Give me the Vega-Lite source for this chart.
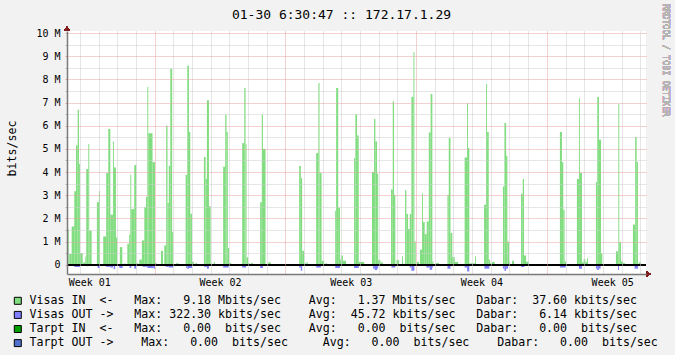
{
"$schema": "https://vega.github.io/schema/vega-lite/v6.json",
"width": 579, "height": 243,
"autosize": {"type": "none"},
"padding": {"left": 67, "top": 31, "right": 29, "bottom": 81},
"background": "#F2F2F2",
"title": {"text": "01-30 6:30:47 :: 172.17.1.29", "font": "DejaVu Sans Mono", "fontSize": 13, "fontWeight": "normal", "color": "#000000", "anchor": "middle", "dx": -15, "offset": -28, "baseline": "alphabetic"},
"config": {"view": {"fill": "#FFFFFF", "stroke": null}, "font": "DejaVu Sans Mono"},
"resolve": {"axis": {"x": "independent", "y": "independent"}},
"data": {"values": [
{"s":"Visas IN","t1":0.31,"t2":0.40,"v":1.54},
{"s":"Visas IN","t1":0.43,"t2":0.56,"v":0.46},
{"s":"Visas IN","t1":0.56,"t2":0.70,"v":1.65},
{"s":"Visas IN","t1":0.70,"t2":0.79,"v":3.17},
{"s":"Visas IN","t1":0.79,"t2":0.88,"v":5.15},
{"s":"Visas IN","t1":0.88,"t2":0.95,"v":6.69},
{"s":"Visas IN","t1":0.95,"t2":1.00,"v":4.35},
{"s":"Visas IN","t1":1.00,"t2":1.15,"v":0.5},
{"s":"Visas IN","t1":1.18,"t2":1.29,"v":0.1},
{"s":"Visas IN","t1":1.29,"t2":1.34,"v":0.36},
{"s":"Visas IN","t1":1.34,"t2":1.45,"v":4.13},
{"s":"Visas IN","t1":1.45,"t2":1.50,"v":5.21},
{"s":"Visas IN","t1":1.50,"t2":1.63,"v":1.47},
{"s":"Visas IN","t1":1.91,"t2":2.02,"v":2.7},
{"s":"Visas IN","t1":2.02,"t2":2.07,"v":3.18},
{"s":"Visas IN","t1":2.25,"t2":2.41,"v":1.22},
{"s":"Visas IN","t1":2.41,"t2":2.52,"v":3.96},
{"s":"Visas IN","t1":2.52,"t2":2.63,"v":5.86},
{"s":"Visas IN","t1":2.63,"t2":2.77,"v":2.16},
{"s":"Visas IN","t1":2.77,"t2":2.82,"v":5.32},
{"s":"Visas IN","t1":2.82,"t2":2.93,"v":4.2},
{"s":"Visas IN","t1":2.93,"t2":3.00,"v":1.18},
{"s":"Visas IN","t1":3.14,"t2":3.27,"v":0.76},
{"s":"Visas IN","t1":3.38,"t2":3.43,"v":0.07},
{"s":"Visas IN","t1":3.54,"t2":3.64,"v":0.9},
{"s":"Visas IN","t1":3.64,"t2":3.70,"v":1.3},
{"s":"Visas IN","t1":3.70,"t2":3.75,"v":3.9},
{"s":"Visas IN","t1":3.75,"t2":3.91,"v":2.4},
{"s":"Visas IN","t1":3.91,"t2":4.02,"v":4.3},
{"s":"Visas IN","t1":4.02,"t2":4.12,"v":0.07},
{"s":"Visas IN","t1":4.18,"t2":4.32,"v":0.22},
{"s":"Visas IN","t1":4.32,"t2":4.45,"v":1.05},
{"s":"Visas IN","t1":4.45,"t2":4.54,"v":2.49},
{"s":"Visas IN","t1":4.54,"t2":4.61,"v":2.92},
{"s":"Visas IN","t1":4.61,"t2":4.66,"v":7.67},
{"s":"Visas IN","t1":4.66,"t2":4.89,"v":5.68},
{"s":"Visas IN","t1":4.89,"t2":5.02,"v":4.43},
{"s":"Visas IN","t1":5.02,"t2":5.11,"v":0.07},
{"s":"Visas IN","t1":5.34,"t2":5.45,"v":0.6},
{"s":"Visas IN","t1":5.52,"t2":5.62,"v":0.83},
{"s":"Visas IN","t1":5.62,"t2":5.69,"v":6.0},
{"s":"Visas IN","t1":5.69,"t2":5.76,"v":2.66},
{"s":"Visas IN","t1":5.76,"t2":5.84,"v":4.27},
{"s":"Visas IN","t1":5.84,"t2":5.94,"v":8.46},
{"s":"Visas IN","t1":5.94,"t2":6.00,"v":1.41},
{"s":"Visas IN","t1":6.16,"t2":6.27,"v":0.07},
{"s":"Visas IN","t1":6.66,"t2":6.75,"v":3.88},
{"s":"Visas IN","t1":6.75,"t2":6.84,"v":8.59},
{"s":"Visas IN","t1":6.84,"t2":6.91,"v":5.73},
{"s":"Visas IN","t1":6.91,"t2":7.00,"v":2.2},
{"s":"Visas IN","t1":7.00,"t2":7.10,"v":0.13},
{"s":"Visas IN","t1":7.19,"t2":7.28,"v":0.07},
{"s":"Visas IN","t1":7.64,"t2":7.73,"v":4.65},
{"s":"Visas IN","t1":7.73,"t2":7.80,"v":3.7},
{"s":"Visas IN","t1":7.80,"t2":7.91,"v":7.1},
{"s":"Visas IN","t1":7.91,"t2":8.00,"v":2.53},
{"s":"Visas IN","t1":8.00,"t2":8.08,"v":0.06},
{"s":"Visas IN","t1":8.17,"t2":8.23,"v":0.12},
{"s":"Visas IN","t1":8.67,"t2":8.78,"v":4.23},
{"s":"Visas IN","t1":8.78,"t2":8.85,"v":6.47},
{"s":"Visas IN","t1":8.85,"t2":8.92,"v":5.73},
{"s":"Visas IN","t1":8.92,"t2":8.99,"v":0.72},
{"s":"Visas IN","t1":8.99,"t2":9.10,"v":0.07},
{"s":"Visas IN","t1":9.69,"t2":9.80,"v":5.25},
{"s":"Visas IN","t1":9.80,"t2":9.87,"v":7.63},
{"s":"Visas IN","t1":9.87,"t2":9.92,"v":5.2},
{"s":"Visas IN","t1":9.92,"t2":10.01,"v":0.32},
{"s":"Visas IN","t1":10.01,"t2":10.08,"v":0.07},
{"s":"Visas IN","t1":10.17,"t2":10.26,"v":0.07},
{"s":"Visas IN","t1":10.65,"t2":10.74,"v":2.7},
{"s":"Visas IN","t1":10.74,"t2":10.80,"v":6.47},
{"s":"Visas IN","t1":10.80,"t2":10.94,"v":5.0},
{"s":"Visas IN","t1":11.08,"t2":11.22,"v":0.1},
{"s":"Visas IN","t1":12.74,"t2":12.83,"v":4.26},
{"s":"Visas IN","t1":12.83,"t2":12.90,"v":3.74},
{"s":"Visas IN","t1":12.90,"t2":13.01,"v":0.6},
{"s":"Visas IN","t1":13.06,"t2":13.15,"v":0.06},
{"s":"Visas IN","t1":13.15,"t2":13.20,"v":0.12},
{"s":"Visas IN","t1":13.65,"t2":13.77,"v":4.82},
{"s":"Visas IN","t1":13.77,"t2":13.83,"v":7.84},
{"s":"Visas IN","t1":13.83,"t2":13.94,"v":3.96},
{"s":"Visas IN","t1":13.94,"t2":14.08,"v":0.17},
{"s":"Visas IN","t1":14.15,"t2":14.22,"v":0.06},
{"s":"Visas IN","t1":14.67,"t2":14.72,"v":2.33},
{"s":"Visas IN","t1":14.72,"t2":14.83,"v":7.63},
{"s":"Visas IN","t1":14.83,"t2":14.93,"v":2.47},
{"s":"Visas IN","t1":14.93,"t2":14.99,"v":0.22},
{"s":"Visas IN","t1":14.99,"t2":15.08,"v":0.4},
{"s":"Visas IN","t1":15.08,"t2":15.25,"v":0.17},
{"s":"Visas IN","t1":15.68,"t2":15.75,"v":4.6},
{"s":"Visas IN","t1":15.75,"t2":15.84,"v":6.5},
{"s":"Visas IN","t1":15.84,"t2":15.93,"v":5.58},
{"s":"Visas IN","t1":15.93,"t2":16.22,"v":0.12},
{"s":"Visas IN","t1":16.64,"t2":16.75,"v":4.0},
{"s":"Visas IN","t1":16.75,"t2":16.82,"v":6.29},
{"s":"Visas IN","t1":16.82,"t2":16.91,"v":5.32},
{"s":"Visas IN","t1":16.91,"t2":16.97,"v":3.93},
{"s":"Visas IN","t1":16.97,"t2":17.09,"v":0.2},
{"s":"Visas IN","t1":17.09,"t2":17.22,"v":0.1},
{"s":"Visas IN","t1":17.66,"t2":17.75,"v":3.25},
{"s":"Visas IN","t1":17.75,"t2":17.82,"v":7.05},
{"s":"Visas IN","t1":17.82,"t2":17.89,"v":3.02},
{"s":"Visas IN","t1":17.95,"t2":18.09,"v":0.2},
{"s":"Visas IN","t1":18.25,"t2":18.30,"v":0.37},
{"s":"Visas IN","t1":18.30,"t2":18.41,"v":0.04},
{"s":"Visas IN","t1":18.41,"t2":18.48,"v":3.22},
{"s":"Visas IN","t1":18.48,"t2":18.57,"v":2.19},
{"s":"Visas IN","t1":18.57,"t2":18.66,"v":1.54},
{"s":"Visas IN","t1":18.66,"t2":18.75,"v":2.19},
{"s":"Visas IN","t1":18.75,"t2":18.86,"v":7.25},
{"s":"Visas IN","t1":18.86,"t2":18.91,"v":9.18},
{"s":"Visas IN","t1":18.91,"t2":18.98,"v":1.0},
{"s":"Visas IN","t1":19.05,"t2":19.16,"v":0.12},
{"s":"Visas IN","t1":19.21,"t2":19.32,"v":0.65},
{"s":"Visas IN","t1":19.32,"t2":19.37,"v":3.09},
{"s":"Visas IN","t1":19.37,"t2":19.46,"v":1.84},
{"s":"Visas IN","t1":19.46,"t2":19.57,"v":1.32},
{"s":"Visas IN","t1":19.57,"t2":19.68,"v":1.87},
{"s":"Visas IN","t1":19.68,"t2":19.78,"v":5.71},
{"s":"Visas IN","t1":19.78,"t2":19.87,"v":7.37},
{"s":"Visas IN","t1":19.87,"t2":19.93,"v":0.14},
{"s":"Visas IN","t1":20.05,"t2":20.23,"v":0.07},
{"s":"Visas IN","t1":20.68,"t2":20.75,"v":3.02},
{"s":"Visas IN","t1":20.75,"t2":20.84,"v":5.47},
{"s":"Visas IN","t1":20.84,"t2":20.94,"v":1.37},
{"s":"Visas IN","t1":20.94,"t2":21.07,"v":0.33},
{"s":"Visas IN","t1":21.07,"t2":21.25,"v":0.12},
{"s":"Visas IN","t1":21.60,"t2":21.73,"v":4.63},
{"s":"Visas IN","t1":21.73,"t2":21.78,"v":6.98},
{"s":"Visas IN","t1":21.78,"t2":21.85,"v":5.04},
{"s":"Visas IN","t1":21.85,"t2":22.16,"v":0.06},
{"s":"Visas IN","t1":22.16,"t2":22.21,"v":0.37},
{"s":"Visas IN","t1":22.64,"t2":22.75,"v":2.59},
{"s":"Visas IN","t1":22.75,"t2":22.80,"v":7.8},
{"s":"Visas IN","t1":22.80,"t2":22.89,"v":5.73},
{"s":"Visas IN","t1":22.89,"t2":22.96,"v":0.22},
{"s":"Visas IN","t1":22.96,"t2":23.07,"v":0.06},
{"s":"Visas IN","t1":23.07,"t2":23.21,"v":0.12},
{"s":"Visas IN","t1":23.65,"t2":23.73,"v":3.38},
{"s":"Visas IN","t1":23.73,"t2":23.82,"v":6.12},
{"s":"Visas IN","t1":23.82,"t2":23.89,"v":4.7},
{"s":"Visas IN","t1":23.89,"t2":23.98,"v":1.0},
{"s":"Visas IN","t1":23.98,"t2":24.03,"v":0.12},
{"s":"Visas IN","t1":24.14,"t2":24.24,"v":0.17},
{"s":"Visas IN","t1":24.62,"t2":24.71,"v":3.06},
{"s":"Visas IN","t1":24.71,"t2":24.78,"v":3.7},
{"s":"Visas IN","t1":24.78,"t2":24.89,"v":0.4},
{"s":"Visas IN","t1":24.89,"t2":25.03,"v":0.13},
{"s":"Visas IN","t1":26.70,"t2":26.81,"v":5.73},
{"s":"Visas IN","t1":26.81,"t2":26.88,"v":4.43},
{"s":"Visas IN","t1":26.88,"t2":26.95,"v":2.37},
{"s":"Visas IN","t1":26.95,"t2":27.03,"v":0.14},
{"s":"Visas IN","t1":27.61,"t2":27.72,"v":3.7},
{"s":"Visas IN","t1":27.72,"t2":27.77,"v":7.19},
{"s":"Visas IN","t1":27.77,"t2":27.88,"v":3.96},
{"s":"Visas IN","t1":27.88,"t2":27.97,"v":0.1},
{"s":"Visas IN","t1":27.97,"t2":28.06,"v":0.24},
{"s":"Visas IN","t1":28.06,"t2":28.15,"v":0.12},
{"s":"Visas IN","t1":28.15,"t2":28.20,"v":0.29},
{"s":"Visas IN","t1":28.63,"t2":28.70,"v":3.57},
{"s":"Visas IN","t1":28.70,"t2":28.79,"v":7.24},
{"s":"Visas IN","t1":28.79,"t2":28.90,"v":5.4},
{"s":"Visas IN","t1":28.90,"t2":28.97,"v":0.5},
{"s":"Visas IN","t1":29.70,"t2":29.83,"v":0.58},
{"s":"Visas IN","t1":29.83,"t2":29.88,"v":6.94},
{"s":"Visas IN","t1":29.88,"t2":29.97,"v":0.98},
{"s":"Visas IN","t1":29.97,"t2":30.08,"v":0.14},
{"s":"Visas IN","t1":30.08,"t2":30.18,"v":0.07},
{"s":"Visas IN","t1":30.61,"t2":30.73,"v":1.73},
{"s":"Visas IN","t1":30.73,"t2":30.81,"v":5.51},
{"s":"Visas IN","t1":30.81,"t2":30.88,"v":4.43},
{"s":"Visas IN","t1":30.88,"t2":30.93,"v":0.04},
{"s":"Visas IN","t1":30.93,"t2":31.04,"v":0.1},
{"s":"Visas IN","t1":31.04,"t2":31.20,"v":0.03},
{"s":"Visas OUT","t1":0.31,"t2":0.35,"v":-0.07},
{"s":"Visas OUT","t1":0.70,"t2":1.00,"v":-0.1},
{"s":"Visas OUT","t1":1.33,"t2":1.50,"v":-0.06},
{"s":"Visas OUT","t1":1.95,"t2":2.07,"v":-0.14},
{"s":"Visas OUT","t1":2.40,"t2":2.63,"v":-0.09},
{"s":"Visas OUT","t1":2.63,"t2":2.77,"v":-0.12},
{"s":"Visas OUT","t1":2.81,"t2":2.89,"v":-0.19},
{"s":"Visas OUT","t1":3.11,"t2":3.29,"v":-0.14},
{"s":"Visas OUT","t1":3.66,"t2":3.75,"v":-0.14},
{"s":"Visas OUT","t1":3.91,"t2":4.02,"v":-0.17},
{"s":"Visas OUT","t1":4.36,"t2":4.59,"v":-0.09},
{"s":"Visas OUT","t1":4.61,"t2":4.95,"v":-0.14},
{"s":"Visas OUT","t1":4.95,"t2":5.02,"v":-0.17},
{"s":"Visas OUT","t1":5.59,"t2":5.76,"v":-0.09},
{"s":"Visas OUT","t1":5.76,"t2":6.00,"v":-0.12},
{"s":"Visas OUT","t1":6.69,"t2":6.75,"v":-0.14},
{"s":"Visas OUT","t1":6.75,"t2":6.84,"v":-0.17},
{"s":"Visas OUT","t1":6.84,"t2":7.00,"v":-0.14},
{"s":"Visas OUT","t1":7.10,"t2":7.16,"v":-0.04},
{"s":"Visas OUT","t1":7.64,"t2":7.80,"v":-0.09},
{"s":"Visas OUT","t1":7.80,"t2":7.91,"v":-0.17},
{"s":"Visas OUT","t1":8.05,"t2":8.17,"v":-0.03},
{"s":"Visas OUT","t1":8.67,"t2":8.96,"v":-0.12},
{"s":"Visas OUT","t1":9.69,"t2":9.90,"v":-0.12},
{"s":"Visas OUT","t1":10.65,"t2":10.80,"v":-0.14},
{"s":"Visas OUT","t1":10.80,"t2":10.87,"v":-0.06},
{"s":"Visas OUT","t1":12.74,"t2":12.83,"v":-0.12},
{"s":"Visas OUT","t1":12.83,"t2":12.90,"v":-0.26},
{"s":"Visas OUT","t1":13.65,"t2":13.90,"v":-0.12},
{"s":"Visas OUT","t1":14.67,"t2":14.93,"v":-0.14},
{"s":"Visas OUT","t1":15.68,"t2":15.93,"v":-0.14},
{"s":"Visas OUT","t1":15.93,"t2":16.00,"v":-0.03},
{"s":"Visas OUT","t1":16.70,"t2":16.79,"v":-0.17},
{"s":"Visas OUT","t1":16.79,"t2":16.91,"v":-0.23},
{"s":"Visas OUT","t1":16.91,"t2":16.97,"v":-0.17},
{"s":"Visas OUT","t1":17.68,"t2":17.89,"v":-0.12},
{"s":"Visas OUT","t1":18.21,"t2":18.30,"v":-0.03},
{"s":"Visas OUT","t1":18.39,"t2":18.66,"v":-0.04},
{"s":"Visas OUT","t1":18.66,"t2":18.75,"v":-0.12},
{"s":"Visas OUT","t1":18.75,"t2":18.91,"v":-0.26},
{"s":"Visas OUT","t1":19.55,"t2":19.73,"v":-0.12},
{"s":"Visas OUT","t1":19.73,"t2":19.86,"v":-0.22},
{"s":"Visas OUT","t1":19.86,"t2":19.91,"v":-0.12},
{"s":"Visas OUT","t1":20.68,"t2":20.84,"v":-0.17},
{"s":"Visas OUT","t1":21.60,"t2":21.73,"v":-0.12},
{"s":"Visas OUT","t1":21.73,"t2":21.85,"v":-0.29},
{"s":"Visas OUT","t1":22.66,"t2":22.92,"v":-0.17},
{"s":"Visas OUT","t1":23.65,"t2":23.73,"v":-0.17},
{"s":"Visas OUT","t1":23.73,"t2":23.82,"v":-0.26},
{"s":"Visas OUT","t1":23.82,"t2":23.92,"v":-0.17},
{"s":"Visas OUT","t1":24.62,"t2":24.80,"v":-0.1},
{"s":"Visas OUT","t1":26.70,"t2":27.01,"v":-0.12},
{"s":"Visas OUT","t1":27.61,"t2":27.72,"v":-0.06},
{"s":"Visas OUT","t1":27.72,"t2":27.88,"v":-0.17},
{"s":"Visas OUT","t1":28.63,"t2":28.70,"v":-0.17},
{"s":"Visas OUT","t1":28.70,"t2":28.79,"v":-0.23},
{"s":"Visas OUT","t1":28.79,"t2":28.88,"v":-0.17},
{"s":"Visas OUT","t1":29.81,"t2":29.86,"v":-0.23},
{"s":"Visas OUT","t1":30.70,"t2":30.88,"v":-0.17}
]},
"layer": [
{"mark": {"type": "rect", "strokeWidth": 0},
 "encoding": {
  "x": {"field": "t1", "type": "quantitative",
        "scale": {"domain": [0.31, 31.31], "nice": false, "zero": false},
        "axis": {"values": [1,2,3,4,5,6,7,8,9,10,11,12,13,14,15,16,17,18,19,20,21,22,23,24,25,26,27,28,29,30,31,1.5,8.5,15.5,22.5,29.5],
                 "title": null, "grid": true,
                 "gridColor": {"condition": {"test": "datum.value % 7 === 5", "value": "#E6A3A3"}, "value": "#CCCCCC"},
                 "gridOpacity": {"condition": {"test": "datum.value % 1 !== 0", "value": 0}, "value": 1},
                 "gridDash": [1, 1], "ticks": false,
                 "labelExpr": "datum.value % 1 === 0.5 ? 'Week 0' + round((datum.value + 5.5) / 7) : ''",
                 "labelFont": "DejaVu Sans Mono", "labelFontSize": 10, "labelColor": "#000000",
                 "labelPadding": 3.5, "labelOverlap": false, "labelFlush": false, "labelBound": false,
                 "domainColor": "#7A7A7A", "domainWidth": 1.5, "zindex": 1}},
  "x2": {"field": "t2"},
  "y": {"field": "v", "type": "quantitative",
        "scale": {"domain": [-0.4, 10.09], "nice": false, "zero": false},
        "axis": {"values": [0,0.5,1,1.5,2,2.5,3,3.5,4,4.5,5,5.5,6,6.5,7,7.5,8,8.5,9,9.5,10],
                 "title": "bits/sec", "titleFont": "DejaVu Sans Mono", "titleFontSize": 11.6, "titleFontWeight": "normal",
                 "titleColor": "#000000", "titleX": -55, "titleY": 117, "titleAngle": -90, "titleAlign": "center", "titleBaseline": "middle",
                 "grid": true,
                 "gridColor": {"condition": {"test": "datum.value % 1 === 0", "value": "#E6A3A3"}, "value": "#CCCCCC"},
                 "gridOpacity": {"condition": {"test": "datum.value === 0", "value": 0}, "value": 1},
                 "gridDash": [1, 1],
                 "tickSize": 2,
                 "tickColor": {"condition": {"test": "datum.value % 1 === 0", "value": "#E6A3A3"}, "value": "#BBBBBB"},
                 "labelExpr": "datum.value % 1 !== 0 ? '' : (datum.value === 0 ? '0\u00a0\u00a0' : datum.value + '\u00a0M')",
                 "labelFont": "DejaVu Sans Mono", "labelFontSize": 10, "labelColor": "#000000",
                 "labelPadding": 5, "labelOverlap": false, "labelFlush": false, "labelBound": false,
                 "domainColor": "#7A7A7A", "domainWidth": 1.5, "zindex": 1}},
  "y2": {"datum": 0},
  "color": {"field": "s", "type": "nominal",
            "scale": {"domain": ["Visas IN", "Visas OUT", "Tarpt IN", "Tarpt OUT"], "range": ["#80DD80", "#8080FF", "#00A000", "#5070CC"]},
            "legend": {"orient": "none", "legendX": -55, "legendY": 264, "title": null, "direction": "vertical",
                       "symbolType": "square", "symbolSize": 49, "symbolStrokeColor": "#000000", "symbolStrokeWidth": 1,
                       "labelFont": "DejaVu Sans Mono", "labelFontSize": 11.6, "labelColor": "#000000", "labelLimit": 1000,
                       "labelOffset": 6, "rowPadding": 1.1, "padding": 0,
                       "labelExpr": "datum.label === 'Visas IN' ? 'Visas\u00a0IN\u00a0\u00a0<-\u00a0\u00a0\u00a0Max:\u00a0\u00a0\u00a09.18\u00a0Mbits/sec\u00a0\u00a0\u00a0\u00a0Avg:\u00a0\u00a0\u00a01.37\u00a0Mbits/sec\u00a0\u00a0\u00a0Dabar:\u00a0\u00a037.60\u00a0kbits/sec' : datum.label === 'Visas OUT' ? 'Visas\u00a0OUT\u00a0->\u00a0\u00a0\u00a0Max:\u00a0322.30\u00a0kbits/sec\u00a0\u00a0\u00a0\u00a0Avg:\u00a0\u00a045.72\u00a0kbits/sec\u00a0\u00a0\u00a0Dabar:\u00a0\u00a0\u00a06.14\u00a0kbits/sec' : datum.label === 'Tarpt IN' ? 'Tarpt\u00a0IN\u00a0\u00a0<-\u00a0\u00a0\u00a0Max:\u00a0\u00a0\u00a00.00\u00a0\u00a0bits/sec\u00a0\u00a0\u00a0\u00a0Avg:\u00a0\u00a0\u00a00.00\u00a0\u00a0bits/sec\u00a0\u00a0\u00a0Dabar:\u00a0\u00a0\u00a00.00\u00a0\u00a0bits/sec' : 'Tarpt\u00a0OUT\u00a0->\u00a0\u00a0\u00a0\u00a0Max:\u00a0\u00a0\u00a00.00\u00a0\u00a0bits/sec\u00a0\u00a0\u00a0\u00a0\u00a0Avg:\u00a0\u00a0\u00a00.00\u00a0\u00a0bits/sec\u00a0\u00a0\u00a0\u00a0Dabar:\u00a0\u00a0\u00a00.00\u00a0\u00a0bits/sec'"}}
 }},
{"mark": {"type": "rule", "color": "#000000", "strokeWidth": 1.5},
 "encoding": {"y": {"datum": 0, "axis": null}}},
{"mark": {"type": "point", "shape": "triangle-right", "filled": true, "color": "#801F1F", "size": 30, "opacity": 1},
 "encoding": {"x": {"datum": 31.44, "axis": null}, "y": {"datum": -0.4, "axis": null}}},
{"mark": {"type": "point", "shape": "triangle-up", "filled": true, "color": "#801F1F", "size": 30, "opacity": 1},
 "encoding": {"x": {"datum": 0.31, "axis": null}, "y": {"datum": 10.19, "axis": null}}},
{"mark": {"type": "text", "text": "RRDTOOL / TOBI OETIKER", "angle": 90, "font": "DejaVu Sans Mono", "fontSize": 8.5, "color": "#B4B4B4", "align": "center", "baseline": "middle"},
 "encoding": {"x": {"datum": 32.4, "axis": null}, "y": {"datum": 8.83, "axis": null}}}
]
}
